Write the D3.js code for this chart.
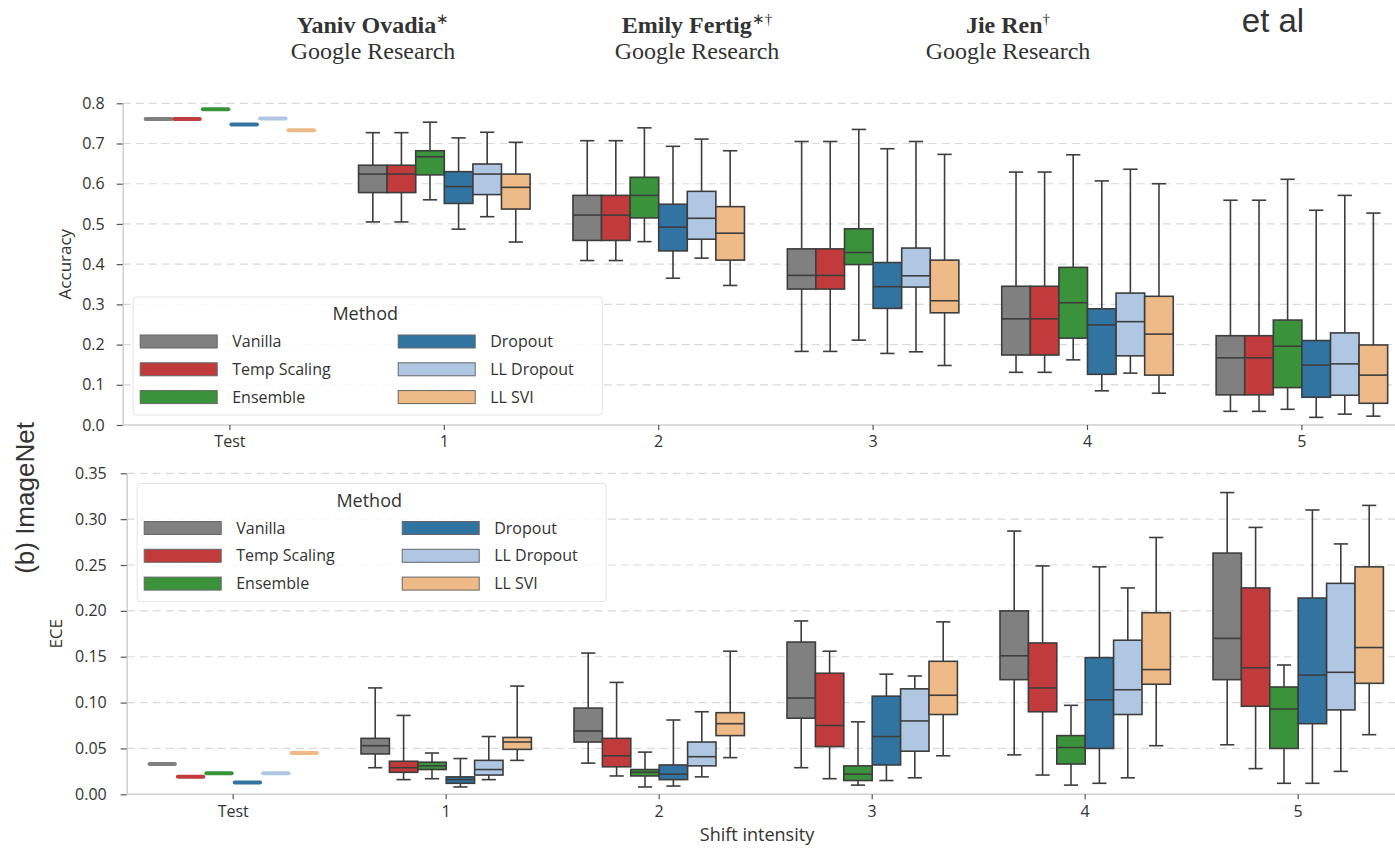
<!DOCTYPE html>
<html>
<head>
<meta charset="utf-8">
<script src="https://cdn.jsdelivr.net/npm/d3@7"></script>
<style>
  body { margin: 0; background: #fff; }
  svg { display: block; }
  text { font-family: "Open Sans", sans-serif; fill: #333; }
</style>
</head>
<body>
<div id="chart"></div>
<script>
const width = 1395;
const height = 850;

const methods = ["Vanilla", "Temp Scaling", "Ensemble", "Dropout", "LL Dropout", "LL SVI"];
const colors = ["#808080", "#c23b3c", "#3a923a", "#3274a1", "#b0c7e4", "#eebb88"];
const shiftLabels = ["Test", "1", "2", "3", "4", "5"];
const accTicks = [0, 0.1, 0.2, 0.3, 0.4, 0.5, 0.6, 0.7, 0.8];
const eceTicks = [0, 0.05, 0.1, 0.15, 0.2, 0.25, 0.3, 0.35];

// single values on the test set, one per method
const accTest = [0.761, 0.761, 0.785, 0.747, 0.762, 0.733];
const eceTest = [0.033, 0.019, 0.023, 0.013, 0.023, 0.045];

// [whisker low, q1, median, q3, whisker high], one row per method
const accShift1 = [[0.505, 0.578, 0.624, 0.646, 0.727], [0.505, 0.578, 0.624, 0.646, 0.727], [0.560, 0.622, 0.667, 0.682, 0.753],
                   [0.487, 0.551, 0.593, 0.630, 0.714], [0.518, 0.573, 0.624, 0.649, 0.728], [0.455, 0.537, 0.591, 0.624, 0.703]];
const accShift2 = [[0.409, 0.459, 0.522, 0.571, 0.707], [0.409, 0.459, 0.522, 0.571, 0.707], [0.456, 0.515, 0.571, 0.616, 0.739],
                   [0.365, 0.433, 0.492, 0.549, 0.693], [0.415, 0.462, 0.514, 0.581, 0.711], [0.347, 0.410, 0.477, 0.543, 0.682]];
const accShift3 = [[0.183, 0.338, 0.372, 0.438, 0.705], [0.183, 0.338, 0.372, 0.438, 0.705], [0.211, 0.399, 0.429, 0.488, 0.735],
                   [0.178, 0.290, 0.344, 0.404, 0.687], [0.182, 0.343, 0.371, 0.440, 0.705], [0.148, 0.279, 0.309, 0.410, 0.673]];
const accShift4 = [[0.131, 0.174, 0.264, 0.345, 0.629], [0.131, 0.174, 0.264, 0.345, 0.629], [0.162, 0.216, 0.304, 0.392, 0.672],
                   [0.085, 0.126, 0.249, 0.289, 0.607], [0.129, 0.172, 0.257, 0.328, 0.636], [0.079, 0.124, 0.226, 0.320, 0.600]];
const accShift5 = [[0.034, 0.075, 0.167, 0.222, 0.559], [0.034, 0.075, 0.167, 0.222, 0.559], [0.039, 0.093, 0.196, 0.261, 0.611],
                   [0.019, 0.069, 0.149, 0.210, 0.534], [0.027, 0.074, 0.152, 0.229, 0.571], [0.022, 0.054, 0.124, 0.199, 0.527]];

const eceShift1 = [[0.029, 0.044, 0.053, 0.061, 0.116], [0.016, 0.024, 0.029, 0.036, 0.086], [0.017, 0.027, 0.031, 0.035, 0.045],
                   [0.008, 0.012, 0.016, 0.019, 0.039], [0.016, 0.021, 0.027, 0.037, 0.063], [0.037, 0.049, 0.057, 0.062, 0.118]];
const eceShift2 = [[0.034, 0.057, 0.069, 0.094, 0.154], [0.020, 0.030, 0.042, 0.061, 0.122], [0.008, 0.020, 0.024, 0.027, 0.046],
                   [0.009, 0.016, 0.022, 0.032, 0.081], [0.019, 0.031, 0.041, 0.057, 0.090], [0.040, 0.064, 0.077, 0.089, 0.156]];
const eceShift3 = [[0.029, 0.083, 0.105, 0.166, 0.189], [0.017, 0.052, 0.075, 0.132, 0.156], [0.010, 0.015, 0.022, 0.031, 0.079],
                   [0.015, 0.032, 0.063, 0.107, 0.131], [0.018, 0.047, 0.080, 0.115, 0.129], [0.042, 0.087, 0.108, 0.145, 0.188]];
const eceShift4 = [[0.043, 0.125, 0.151, 0.200, 0.287], [0.021, 0.090, 0.116, 0.165, 0.249], [0.010, 0.033, 0.051, 0.064, 0.097],
                   [0.012, 0.050, 0.103, 0.149, 0.248], [0.018, 0.087, 0.114, 0.168, 0.225], [0.053, 0.120, 0.136, 0.198, 0.280]];
const eceShift5 = [[0.054, 0.125, 0.170, 0.263, 0.329], [0.028, 0.096, 0.138, 0.225, 0.291], [0.012, 0.050, 0.093, 0.117, 0.141],
                   [0.012, 0.077, 0.130, 0.214, 0.310], [0.025, 0.092, 0.133, 0.230, 0.273], [0.065, 0.121, 0.160, 0.248, 0.315]];

const svg = d3.select("#chart")
    .append("svg")
    .attr("width", width)
    .attr("height", height);

const lineColor = "#3d3d3d";

// 1パネル分の箱ひげ図
function drawPanel(cfg) {
    const x = d3.scaleBand()
        .domain(shiftLabels)
        .range([cfg.left, cfg.left + 6 * cfg.step]);
    const bw = x.bandwidth();
    const hue = d3.scaleBand()
        .domain(methods)
        .range([bw * 0.1, bw * 0.9]);
    const boxW = hue.bandwidth();
    const y = d3.scaleLinear()
        .domain([0, cfg.max])
        .range([cfg.bottom, cfg.top]);

    const g = svg.append("g");

    // grid
    g.selectAll("line.grid")
        .data(cfg.ticks.filter(d => d > 0))
        .join("line")
        .attr("x1", cfg.left)
        .attr("x2", width)
        .attr("y1", d => y(d))
        .attr("y2", d => y(d))
        .attr("stroke", "#d9d9d9")
        .attr("stroke-width", 1.2)
        .attr("stroke-dasharray", "8,5");

    // axes
    const yAxis = g.append("g")
        .attr("transform", `translate(${cfg.left},0)`)
        .call(d3.axisLeft(y).tickValues(cfg.ticks).tickFormat(d3.format(cfg.fmt)).tickSize(6).tickSizeOuter(0).tickPadding(cfg.ypad));
    const xAxis = g.append("g")
        .attr("transform", `translate(0,${cfg.bottom})`)
        .call(d3.axisBottom(x).tickSize(5).tickSizeOuter(0).tickPadding(6));
    [yAxis, xAxis].forEach(a => {
        a.select(".domain").attr("stroke", "#cfcfcf").attr("stroke-width", 1.5);
        a.selectAll(".tick line").attr("stroke", "#555").attr("stroke-width", 1.2);
        a.selectAll(".tick text").style("font-size", "16px").attr("fill", "#333");
    });
    xAxis.select(".domain").attr("d", `M${cfg.left},0H${width}`);

    g.append("text")
        .attr("transform", `translate(${cfg.labelX},${(cfg.top + cfg.bottom) / 2}) rotate(-90)`)
        .attr("text-anchor", "middle")
        .attr("dy", "0.35em")
        .style("font-size", "17px")
        .text(cfg.label);

    // test set: single values drawn as flat marks
    g.selectAll("line.test")
        .data(cfg.test)
        .join("line")
        .attr("x1", (d, i) => x("Test") + hue(methods[i]) + 1.5)
        .attr("x2", (d, i) => x("Test") + hue(methods[i]) + boxW - 1.5)
        .attr("y1", d => y(d))
        .attr("y2", d => y(d))
        .attr("stroke", (d, i) => colors[i])
        .attr("stroke-width", 4)
        .attr("stroke-linecap", "round");

    // shifted data
    cfg.shifts.forEach((rows, si) => {
        const x0 = x(shiftLabels[si + 1]);
        rows.forEach((s, mi) => {
            const bx = x0 + hue(methods[mi]);
            const cx = bx + boxW / 2;
            const bg = g.append("g");
            bg.append("line")
                .attr("x1", cx).attr("x2", cx)
                .attr("y1", y(s[3])).attr("y2", y(s[4]));
            bg.append("line")
                .attr("x1", cx).attr("x2", cx)
                .attr("y1", y(s[1])).attr("y2", y(s[0]));
            [s[0], s[4]].forEach(v => {
                bg.append("line")
                    .attr("x1", cx - boxW / 4).attr("x2", cx + boxW / 4)
                    .attr("y1", y(v)).attr("y2", y(v));
            });
            bg.append("rect")
                .attr("x", bx)
                .attr("y", y(s[3]))
                .attr("width", boxW)
                .attr("height", y(s[1]) - y(s[3]))
                .attr("fill", colors[mi]);
            bg.append("line")
                .attr("x1", bx).attr("x2", bx + boxW)
                .attr("y1", y(s[2])).attr("y2", y(s[2]));
            bg.selectAll("line").attr("stroke", lineColor).attr("stroke-width", 1.6);
            bg.select("rect").attr("stroke", lineColor).attr("stroke-width", 1.6);
        });
    });

    // legend
    const lg = g.append("g")
        .attr("transform", `translate(${cfg.left + 10.5},${cfg.legendY})`);
    lg.append("rect")
        .attr("width", 469)
        .attr("height", 118)
        .attr("rx", 3)
        .attr("fill", "#fff")
        .attr("fill-opacity", 0.85)
        .attr("stroke", "#e4e4e4");
    lg.append("text")
        .attr("x", 232)
        .attr("y", 17)
        .attr("dy", "0.35em")
        .attr("text-anchor", "middle")
        .style("font-size", "18px")
        .text("Method");
    const items = lg.selectAll("g.item")
        .data(methods)
        .join("g")
        .attr("transform", (d, i) => `translate(${i < 3 ? 7 : 265},${44.5 + (i % 3) * 27.8})`);
    items.append("rect")
        .attr("y", -6.5)
        .attr("width", 77)
        .attr("height", 13)
        .attr("fill", (d, i) => colors[i])
        .attr("stroke", "#666")
        .attr("stroke-width", 1);
    items.append("text")
        .attr("x", 92)
        .attr("dy", "0.35em")
        .style("font-size", "16px")
        .attr("fill", "#222")
        .text(d => d);
}

drawPanel({
    left: 122.7, step: 214.4, top: 103.3, bottom: 425, max: 0.8,
    ticks: accTicks, fmt: ".1f", ypad: 12, labelX: 65, label: "Accuracy",
    test: accTest, shifts: [accShift1, accShift2, accShift3, accShift4, accShift5],
    legendY: 297
});

drawPanel({
    left: 126.7, step: 213, top: 473.3, bottom: 794.3, max: 0.35,
    ticks: eceTicks, fmt: ".2f", ypad: 14, labelX: 56, label: "ECE",
    test: eceTest, shifts: [eceShift1, eceShift2, eceShift3, eceShift4, eceShift5],
    legendY: 483.5
});

svg.append("text")
    .attr("x", 757)
    .attr("y", 841)
    .attr("text-anchor", "middle")
    .style("font-size", "18px")
    .text("Shift intensity");

svg.append("text")
    .attr("transform", "translate(25,498) rotate(-90)")
    .attr("text-anchor", "middle")
    .attr("dy", "0.35em")
    .style("font-family", "'Liberation Sans', Arial, sans-serif")
    .style("font-size", "26px")
    .attr("fill", "#444")
    .text("(b) ImageNet");

// header
const authors = [
    {name: "Yaniv Ovadia", sup: "∗", x: 373},
    {name: "Emily Fertig", sup: "∗†", x: 697},
    {name: "Jie Ren", sup: "†", x: 1008}
];
const head = svg.selectAll("g.author")
    .data(authors)
    .join("g")
    .attr("transform", d => `translate(${d.x},0)`);
const nameText = head.append("text")
    .attr("y", 33)
    .attr("text-anchor", "middle")
    .style("font-family", "'Liberation Serif', 'Times New Roman', serif")
    .style("font-size", "24px")
    .style("font-weight", "bold")
    .attr("fill", "#000");
nameText.append("tspan").text(d => d.name);
nameText.append("tspan")
    .attr("dy", -9)
    .style("font-size", "15px")
    .style("font-weight", "normal")
    .text(d => d.sup);
head.append("text")
    .attr("y", 59)
    .attr("text-anchor", "middle")
    .style("font-family", "'Liberation Serif', 'Times New Roman', serif")
    .style("font-size", "24px")
    .attr("fill", "#000")
    .text("Google Research");

svg.append("text")
    .attr("x", 1273)
    .attr("y", 32)
    .attr("text-anchor", "middle")
    .style("font-family", "'Liberation Sans', Arial, sans-serif")
    .style("font-size", "33px")
    .attr("fill", "#000")
    .text("et al");
</script>
</body>
</html>
